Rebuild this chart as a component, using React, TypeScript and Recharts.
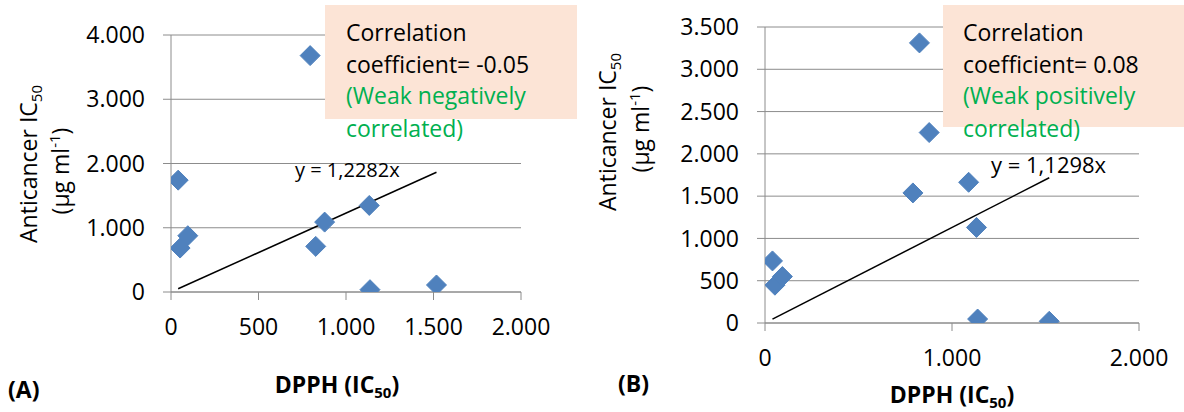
import { ScatterChart, Scatter, XAxis, YAxis, CartesianGrid } from "recharts";

// panel A
const dpphA = [41, 52, 96, 795, 827, 878, 1133, 1137, 1517];
const anticancerA = [1741, 684, 876, 3679, 710, 1088, 1347, 36, 109];
const slopeA = 1.2282;
const xTicksA = [0, 500, 1000, 1500, 2000];
const yTicksA = [0, 1000, 2000, 3000, 4000];

// panel B
const dpphB = [40, 53, 93, 826, 791, 878, 1089, 1131, 1137, 1520];
const anticancerB = [734, 447, 549, 3312, 1538, 2252, 1664, 1130, 47, 20];
const slopeB = 1.1298;
const xTicksB = [0, 1000, 2000];
const yTicksB = [0, 500, 1000, 1500, 2000, 2500, 3000, 3500];

const FONT = "'Open Sans', sans-serif";
const GRAY = "#8c8c8c";
const BLUE = "#4f81bd";
const GREEN = "#00b050";
const PEACH = "#fce4d6";

const fmt = (v: number) => String(v).replace(/\B(?=(\d{3})+(?!\d))/g, ".");

const toPoints = (xs: number[], ys: number[]) => xs.map((x, i) => ({ x, y: ys[i] }));

const trend = (xs: number[], slope: number) => {
  const lo = Math.min(...xs);
  const hi = Math.max(...xs);
  return [
    { x: lo, y: lo * slope },
    { x: hi, y: hi * slope },
  ];
};

function Diamond(props: any) {
  const { cx, cy } = props;
  const r = 10;
  return (
    <polygon
      points={`${cx},${cy - r} ${cx + r},${cy} ${cx},${cy + r} ${cx - r},${cy}`}
      fill={BLUE}
      stroke={BLUE}
      strokeWidth={1}
      strokeLinejoin="round"
    />
  );
}

const tickStyle = { fill: "#000", fontSize: 23, fontFamily: FONT };

function Panel(props: {
  left: number;
  width: number;
  top: number;
  right: number;
  yWidth: number;
  xHeight: number;
  xTicks: number[];
  yTicks: number[];
  xs: number[];
  ys: number[];
  slope: number;
}) {
  const { left, width, top, right, yWidth, xHeight, xTicks, yTicks, xs, ys, slope } = props;
  return (
    <div style={{ position: "absolute", left, top: 0 }}>
      <ScatterChart
        width={width}
        height={412}
        margin={{ top, right, bottom: 0, left: 0 }}
      >
        <CartesianGrid vertical={false} stroke={GRAY} />
        <XAxis
          type="number"
          dataKey="x"
          domain={[0, xTicks[xTicks.length - 1]]}
          ticks={xTicks}
          interval={0}
          tickFormatter={fmt}
          stroke={GRAY}
          tick={tickStyle}
          tickSize={8}
          tickMargin={19}
          height={xHeight}
          allowDataOverflow
        />
        <YAxis
          type="number"
          dataKey="y"
          domain={[0, yTicks[yTicks.length - 1]]}
          ticks={yTicks}
          interval={0}
          tickFormatter={fmt}
          stroke={GRAY}
          tick={tickStyle}
          tickSize={8}
          tickMargin={18}
          width={yWidth}
          allowDataOverflow
        />
        <Scatter
          data={trend(xs, slope)}
          line={{ stroke: "#000", strokeWidth: 1.5 }}
          shape={() => <g />}
          isAnimationActive={false}
        />
        <Scatter data={toPoints(xs, ys)} shape={Diamond} isAnimationActive={false} />
      </ScatterChart>
    </div>
  );
}

function YTitle({ x1, y1, x2, y2 }: { x1: number; y1: number; x2: number; y2: number }) {
  return (
    <g fontSize={23}>
      <text x={x1} y={y1} textAnchor="middle" transform={`rotate(-90 ${x1} ${y1})`}>
        Anticancer IC
        <tspan dy={5} fontSize={15}>50</tspan>
      </text>
      <text x={x2} y={y2} textAnchor="middle" transform={`rotate(-90 ${x2} ${y2})`}>
        (µg ml
        <tspan dy={-9} fontSize={15}>-1</tspan>
        <tspan dy={9}>)</tspan>
      </text>
    </g>
  );
}

function XTitle({ x, y }: { x: number; y: number }) {
  return (
    <text x={x} y={y} textAnchor="middle" fontSize={23} fontWeight="bold">
      DPPH (IC
      <tspan dy={5} fontSize={15}>50</tspan>
      <tspan dy={-5}>)</tspan>
    </text>
  );
}

function NoteBox(props: { x: number; y: number; w: number; h: number; tx: number; lines: string[] }) {
  const { x, y, w, h, tx, lines } = props;
  const base = [41, 73, 104, 137];
  return (
    <g fontSize={23}>
      <rect x={x} y={y} width={w} height={h} fill={PEACH} />
      {lines.map((s, i) => (
        <text key={i} x={tx} y={base[i]} fill={i < 2 ? "#000" : GREEN}>
          {s}
        </text>
      ))}
    </g>
  );
}

export default function App() {
  return (
    <div
      style={{
        position: "absolute",
        left: 0,
        top: 0,
        width: 1184,
        height: 412,
        background: "#fff",
        fontFamily: FONT,
      }}
    >
      <Panel
        left={0}
        width={600}
        top={35}
        right={79}
        yWidth={171}
        xHeight={120}
        xTicks={xTicksA}
        yTicks={yTicksA}
        xs={dpphA}
        ys={anticancerA}
        slope={slopeA}
      />
      <Panel
        left={590}
        width={594}
        top={27}
        right={45}
        yWidth={175}
        xHeight={89}
        xTicks={xTicksB}
        yTicks={yTicksB}
        xs={dpphB}
        ys={anticancerB}
        slope={slopeB}
      />
      <svg
        width={1184}
        height={412}
        style={{ position: "absolute", left: 0, top: 0, pointerEvents: "none" }}
        fontFamily={FONT}
      >
        {/* panel A notes */}
        <NoteBox
          x={325}
          y={5}
          w={252}
          h={114}
          tx={346}
          lines={["Correlation", "coefficient= -0.05", "(Weak negatively", "correlated)"]}
        />
        <text x={295} y={177} fontSize={20}>y = 1,2282x</text>
        <YTitle x1={37} y1={164} x2={69} y2={171} />
        <XTitle x={337} y={393} />
        <text x={8} y={398} fontSize={23} fontWeight="bold">(A)</text>

        {/* panel B notes */}
        <NoteBox
          x={943}
          y={5}
          w={241}
          h={122}
          tx={963}
          lines={["Correlation", "coefficient= 0.08", "(Weak positively", "correlated)"]}
        />
        <text x={991} y={173} fontSize={22}>y = 1,1298x</text>
        <YTitle x1={616} y1={132} x2={649} y2={129} />
        <XTitle x={952} y={403} />
        <text x={618} y={392} fontSize={23} fontWeight="bold">(B)</text>
      </svg>
    </div>
  );
}
